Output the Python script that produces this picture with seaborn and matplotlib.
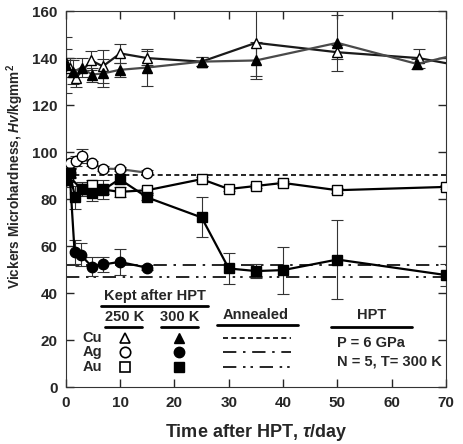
import matplotlib
matplotlib.use("Agg")
import matplotlib.pyplot as plt
from matplotlib import font_manager
import numpy as np
import seaborn as sns

# ---- data ----
cu250_day = [0, 0.7, 1.8, 4.7, 6.8, 10, 15, 25, 35, 50, 65, 72]
cu250_hv = [138, 136, 131.5, 139, 136.5, 142, 140, 138.5, 146.5, 142.5, 140, 137]
cu250_err = [6, 4, 4, 4, 7, 4, 3, 2, 14, 3, 4, 0]

cu300_day = [0, 1.3, 2.9, 4.8, 6.9, 9.9, 15, 25, 35, 50, 64.7, 72]
cu300_hv = [137, 134, 136, 133, 133.5, 135, 136, 138.5, 139, 146.5, 137.5, 141.5]
cu300_err = [12, 5, 4, 3, 6, 3, 8, 2, 8, 12, 2, 0]

ag250_day = [0, 0.7, 1.8, 2.9, 4.9, 6.9, 9.9, 15]
ag250_hv = [94.5, 95.2, 96.3, 98.3, 95.2, 93, 92.8, 91.2]
ag250_err = [2, 2, 2, 3, 1, 1, 1, 1]

ag300_day = [0, 0.7, 1.6, 2.7, 4.8, 6.9, 9.9, 15]
ag300_hv = [88, 91, 57.6, 56.4, 51.2, 52.2, 53.3, 50.8]
ag300_err = [2, 2, 5, 5, 4, 3, 5.5, 1]

au250_day = [0.4, 2.9, 4.9, 6.9, 9.9, 15, 25, 30, 35, 40, 50, 70]
au250_hv = [90.2, 84.1, 86, 84.1, 83.1, 83.8, 88.5, 84.3, 85.6, 86.9, 83.8, 85.2]
au250_err = [3, 2, 2, 2, 2, 1, 1, 1, 1, 1, 1, 1]

au300_day = [0, 0.7, 1.7, 2.9, 4.9, 6.9, 9.9, 15, 25, 30, 35, 40, 50, 70]
au300_hv = [88.3, 91.3, 80.7, 84.5, 82.4, 84, 88.5, 80.7, 72.2, 50.5, 49.4, 49.8, 54.3, 47.7]
au300_err = [3, 2, 5, 3, 3, 4, 2, 1, 8.5, 6.7, 3, 10, 17, 4.7]

annealed_cu = 90.2
annealed_ag = 51.9
annealed_au = 46.9

sns.set_style("ticks")
plt.rcParams["font.family"] = ["Liberation Sans", "DejaVu Sans"]
plt.rcParams["font.weight"] = "bold"
plt.rcParams["mathtext.fontset"] = "custom"
plt.rcParams["mathtext.it"] = "Liberation Sans:bold:italic"
plt.rcParams["mathtext.rm"] = "Liberation Sans:bold"

# narrow face for the y label if it is installed
installed = {f.name for f in font_manager.fontManager.ttflist}
narrow = "Liberation Sans Narrow" in installed

fig = plt.figure(figsize=(4.64, 4.44), dpi=100)
ax = fig.add_axes([0.142, 0.128, 0.819, 0.847])

# annealed reference levels
dash_cu = (3, 2)
dash_ag = (8, 4, 1.5, 4)
dash_au = (8, 4, 1.5, 3, 1.5, 4)
ax.axhline(annealed_cu, color="black", lw=1.2, dashes=dash_cu)
ax.axhline(annealed_ag, color="black", lw=1.2, dashes=dash_ag)
ax.axhline(annealed_au, color="black", lw=1.2, dashes=dash_au)

series = [
    (cu250_day, cu250_hv, cu250_err, "^", "white", "#1a1a1a"),
    (cu300_day, cu300_hv, cu300_err, "^", "black", "#4a4a4a"),
    (ag250_day, ag250_hv, ag250_err, "o", "white", "#555555"),
    (ag300_day, ag300_hv, ag300_err, "o", "black", "black"),
    (au250_day, au250_hv, au250_err, "s", "white", "black"),
    (au300_day, au300_hv, au300_err, "s", "black", "black"),
]
for day, hv, err, mk, face, lc in series:
    ax.errorbar(day, hv, yerr=err, fmt="none", ecolor="#333333",
                elinewidth=0.8, capsize=4, capthick=0.8, zorder=2)
    sns.lineplot(x=day, y=hv, ax=ax, sort=False, color=lc, lw=1.6,
                 marker=mk, markersize=7.5, markerfacecolor=face,
                 markeredgecolor="black", markeredgewidth=1.0, zorder=3)

# in-plot legend
bold = dict(fontweight="bold", fontsize=10.5)
ax.text(16.4, 38.7, "Kept after HPT", ha="center", va="center", **bold)
ax.plot([6.4, 26.2], [34.5, 34.5], color="black", lw=2)
ax.text(10.8, 30.0, "250 K", ha="center", va="center", **bold)
ax.plot([7.2, 14], [25.4, 25.4], color="black", lw=2)
ax.text(20.9, 30.0, "300 K", ha="center", va="center", **bold)
ax.plot([17.5, 24.3], [25.4, 25.4], color="black", lw=2)
ax.text(35, 30.6, "Annealed", ha="center", va="center", **bold)
ax.plot([27.9, 42.8], [26.4, 26.4], color="black", lw=2)
ax.text(56.3, 30.6, "HPT", ha="center", va="center", **bold)
ax.plot([48.9, 63.7], [25.4, 25.4], color="black", lw=2)
ax.text(50, 18.9, "P = 6 GPa", ha="left", va="center", **bold)
ax.text(50, 10.8, "N = 5, T= 300 K", ha="left", va="center", **bold)

rows = [("Cu", "^", 21.0, dash_cu), ("Ag", "o", 15.0, dash_ag), ("Au", "s", 8.5, dash_au)]
for name, mk, yv, dsh in rows:
    ax.text(4.9, yv, name, ha="center", va="center", **bold)
    ax.plot([10.9], [yv], marker=mk, markersize=7.5, mfc="white", mec="black", mew=1.2, ls="none")
    ax.plot([20.8], [yv], marker=mk, markersize=7.5, mfc="black", mec="black", ls="none")
    ax.plot([28.9, 41.5], [yv, yv], color="black", lw=1.2, dashes=dsh)

ax.set_xlim(0, 70)
ax.set_ylim(0, 160)
ax.set_xticks(np.arange(0, 71, 10))
ax.set_yticks(np.arange(0, 161, 20))
ax.tick_params(direction="in", top=True, right=True, length=6, width=1,
               labelsize=11, pad=6)
for lab in ax.get_xticklabels() + ax.get_yticklabels():
    lab.set_fontweight("bold")
for sp in ax.spines.values():
    sp.set_visible(True)
    sp.set_color("#333333")

ax.set_xlabel(r"Time after HPT, $\mathit{\tau}$/day", fontsize=13, fontweight="bold", labelpad=9)

if narrow:
    ax.set_ylabel("Vickers Microhardness, $Hv$/kgmm$^2$", fontsize=12.5,
                  fontweight="bold", family=["Liberation Sans Narrow", "Liberation Sans"])
else:
    ax.set_ylabel(r"Vickers Microhardness, $Hv$/kgmm$^2$", fontsize=9.8, fontweight="bold")
ax.yaxis.set_label_coords(-0.105, 0.561)

fig.savefig("out.png", dpi=100)
